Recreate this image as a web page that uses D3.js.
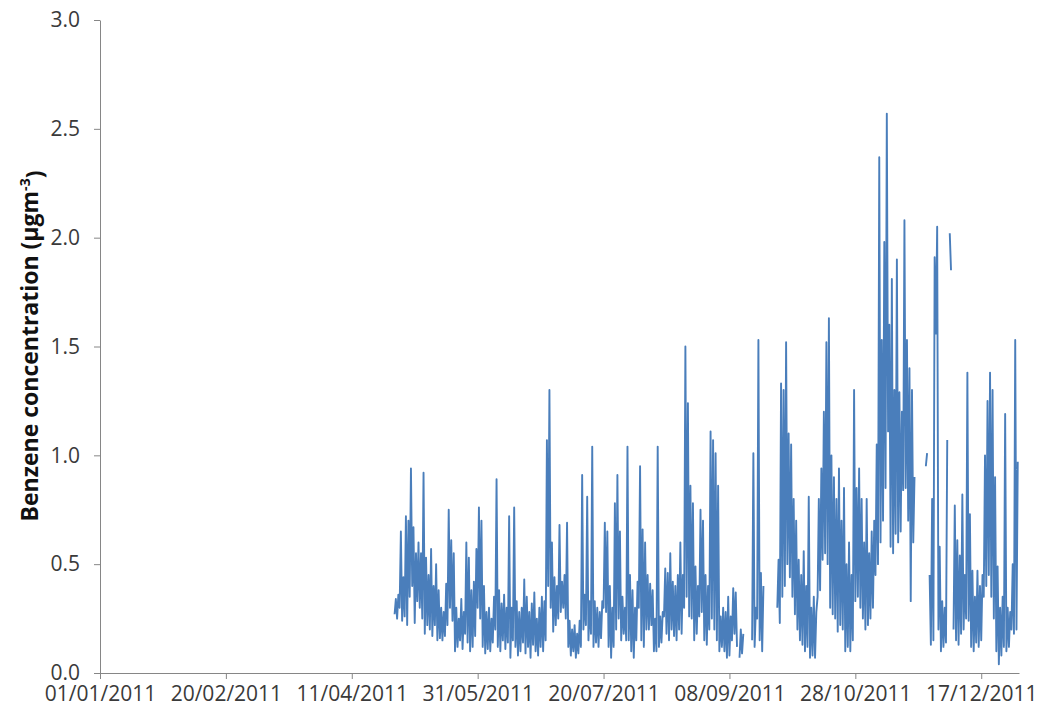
<!DOCTYPE html>
<html>
<head>
<meta charset="utf-8">
<script src="https://cdn.jsdelivr.net/npm/d3@7"></script>
<style>
  body { margin: 0; background: #ffffff; }
  svg text { font-family: "Open Sans", "DejaVu Sans", sans-serif; }
</style>
</head>
<body>
<svg id="chart" width="1045" height="718"></svg>
<script>
// Benzene readings, 12-hourly (00:00 and 12:00), grouped by month; null = no reading
const benzeneApr = [0.27,0.34, 0.25,0.36, 0.30,0.65];
const benzeneMay = [
  0.24,0.44, 0.26,0.72, 0.22,0.70, 0.35,0.94, 0.40,0.67, 0.23,0.55, 0.33,0.60, 0.30,0.55,
  0.25,0.92, 0.18,0.53, 0.22,0.45, 0.20,0.57, 0.17,0.40, 0.22,0.50, 0.15,0.38, 0.16,0.30,
  0.15,0.28, 0.17,0.41, 0.22,0.75, 0.30,0.61, 0.24,0.55, 0.10,0.30, 0.12,0.25, 0.15,0.34,
  0.11,0.28, 0.18,0.60, 0.14,0.53, 0.10,0.38, 0.12,0.42, 0.17,0.57, 0.30,0.76
];
const benzeneJun = [
  0.25,0.70, 0.12,0.40, 0.09,0.28, 0.11,0.30, 0.10,0.25, 0.14,0.35, 0.20,0.89, 0.12,0.38,
  0.10,0.32, 0.15,0.36, 0.11,0.30, 0.14,0.72, 0.07,0.30, 0.15,0.76, 0.12,0.33, 0.08,0.28,
  0.10,0.30, 0.14,0.43, 0.09,0.35, 0.12,0.28, 0.07,0.32, 0.13,0.37, 0.10,0.25, 0.08,0.30,
  0.12,0.35, 0.10,0.33, 0.15,1.07, 0.40,1.30, 0.30,0.60, 0.19,0.44
];
const benzeneJul = [
  0.22,0.40, 0.25,0.68, 0.28,0.42, 0.30,0.45, 0.25,0.69, 0.12,0.24, 0.08,0.20, 0.10,0.22,
  0.07,0.18, 0.09,0.24, 0.12,0.91, 0.20,0.36, 0.22,0.81, 0.15,0.33, 0.18,1.04, 0.12,0.33,
  0.14,0.30, 0.12,0.28, 0.16,0.33, 0.30,0.69, 0.28,0.65, 0.12,0.40, 0.07,0.30, 0.12,0.78,
  0.20,0.91, 0.25,0.65, 0.15,0.35, 0.18,0.30, 0.15,1.04, 0.15,0.45, 0.10,0.38
];
const benzeneAug = [
  0.07,0.30, 0.15,0.42, 0.30,0.95, 0.15,0.66, 0.12,0.60, 0.20,0.45, 0.20,0.41, 0.22,0.38,
  0.10,0.25, 0.10,1.04, 0.12,0.26, 0.14,0.28, 0.26,0.48, 0.18,0.46, 0.15,0.55, 0.20,0.42,
  0.17,0.40, 0.15,0.45, 0.20,0.60, 0.18,0.45, 0.30,1.50, 0.35,1.24, 0.26,0.86, 0.25,0.78,
  0.15,0.49, 0.18,0.40, 0.26,0.75, 0.28,0.70, 0.15,0.45, 0.13,0.40, 0.20,1.11
];
const benzeneSep = [
  0.25,1.07, 0.20,1.01, 0.15,0.86, 0.10,0.26, 0.12,0.30, 0.10,0.28, 0.07,0.35, 0.08,0.26,
  0.15,0.39, 0.18,0.37, 0.12,null, 0.07,0.20, 0.09,0.18, null,null, null,null, null,null,
  0.15,1.01, 0.12,0.30, 0.25,1.53, 0.15,0.46, 0.10,0.40, null,null, null,null, null,null,
  null,null, null,null, 0.30,0.52, 0.23,1.33, 0.35,1.30, 0.40,1.52
];
const benzeneOct = [
  0.50,1.10, 0.44,1.05, 0.35,0.80, 0.27,0.70, 0.20,0.52, 0.15,0.45, 0.13,0.56, 0.10,0.40,
  0.12,0.81, 0.07,0.30, 0.08,0.35, 0.07,0.28, 0.35,0.80, 0.38,0.94, 0.52,1.20, 0.55,1.52,
  0.50,1.63, 0.30,1.00, 0.27,0.90, 0.25,0.80, 0.19,0.94, 0.22,0.70, 0.20,0.85, 0.10,0.50,
  0.12,0.60, 0.10,0.45, 0.15,1.30, 0.33,0.85, 0.35,0.94, 0.30,0.80, 0.25,0.60
];
const benzeneNov = [
  0.20,0.80, 0.22,0.55, 0.25,0.65, 0.30,0.70, 0.45,1.05, 0.50,2.37, 0.60,1.53, 0.70,1.98,
  0.85,2.57, 1.11,1.60, 0.58,1.81, 0.55,1.30, 0.64,1.90, 0.60,1.29, 0.65,1.20, 0.84,2.08,
  0.85,1.53, 0.70,1.40, 0.33,1.30, 0.60,0.90, null,null, null,null, null,null, null,null,
  0.95,1.01, null,0.45, 0.13,0.80, 0.15,1.91, 1.56,2.05, 0.20,0.58
];
const benzeneDec = [
  0.10,0.33, 0.12,0.30, 0.14,1.07, null,2.02, 1.85,null, 0.20,0.77, 0.15,0.61, 0.13,0.54,
  0.18,0.82, 0.20,0.45, 0.25,1.38, 0.24,0.73, 0.12,0.47, 0.10,0.35, 0.14,0.47, 0.12,0.40,
  0.15,0.45, 0.35,1.00, 0.40,1.25, 0.45,1.38, 0.35,1.30, 0.25,0.90, 0.10,0.49, 0.04,0.30,
  0.08,0.35, 0.12,1.19, 0.10,0.30, 0.12,0.28, 0.20,0.50, 0.18,1.53, 0.20,0.97
];

const monthlyRuns = [
  ["2011-04-28", benzeneApr], ["2011-05-01", benzeneMay], ["2011-06-01", benzeneJun],
  ["2011-07-01", benzeneJul], ["2011-08-01", benzeneAug], ["2011-09-01", benzeneSep],
  ["2011-10-01", benzeneOct], ["2011-11-01", benzeneNov], ["2011-12-01", benzeneDec]
];

const yTickValues = [0, 0.5, 1.0, 1.5, 2.0, 2.5, 3.0];
const xTickLabels = ["01/01/2011", "20/02/2011", "11/04/2011", "31/05/2011",
                     "20/07/2011", "08/09/2011", "28/10/2011", "17/12/2011"];

const HALF_DAY = 12 * 3600 * 1000;
const parseDay = d3.utcParse("%Y-%m-%d");
const parseLabel = d3.utcParse("%d/%m/%Y");
const formatLabel = d3.utcFormat("%d/%m/%Y");

const readings = monthlyRuns.flatMap(([start, values]) => {
  const t0 = parseDay(start).getTime();
  return values.map((v, i) => ({ date: new Date(t0 + i * HALF_DAY), value: v }));
});

const svg = d3.select("#chart");
const plot = { left: 100, right: 1019, top: 20, bottom: 673 };

const x = d3.scaleUtc()
  .domain([Date.UTC(2011, 0, 1), Date.UTC(2012, 0, 1)])
  .range([plot.left, plot.right]);
const y = d3.scaleLinear().domain([0, 3]).range([plot.bottom, plot.top]);

const axisColor = "#868686";
const labelColor = "#3a3a3a";

// Y axis
const yAxis = svg.append("g")
  .attr("transform", `translate(${plot.left},0)`)
  .call(d3.axisLeft(y).tickValues(yTickValues).tickFormat(d3.format(".1f"))
    .tickSize(6).tickSizeOuter(0).tickPadding(14));
// X axis
const xAxis = svg.append("g")
  .attr("transform", `translate(0,${plot.bottom})`)
  .call(d3.axisBottom(x).tickValues(xTickLabels.map(parseLabel)).tickFormat(formatLabel)
    .tickSize(6).tickSizeOuter(0).tickPadding(7));

[yAxis, xAxis].forEach(g => {
  g.select(".domain").attr("stroke", axisColor).attr("stroke-width", 1);
  g.selectAll(".tick line").attr("stroke", axisColor);
  g.selectAll(".tick text").attr("fill", labelColor);
});
yAxis.selectAll(".tick text").style("font-size", "21px");
xAxis.selectAll(".tick text").style("font-size", "21px");

// Benzene series
const line = d3.line()
  .defined(d => d.value != null)
  .x(d => x(d.date))
  .y(d => y(d.value));

svg.append("path")
  .datum(readings)
  .attr("fill", "none")
  .attr("stroke", "#4a7ebb")
  .attr("stroke-width", 1.9)
  .attr("stroke-linejoin", "round")
  .attr("d", line);

// Y axis title
const title = svg.append("text")
  .attr("transform", `translate(38,346) rotate(-90)`)
  .attr("text-anchor", "middle")
  .attr("fill", "#111")
  .style("font-size", "23px")
  .style("font-weight", "bold");
title.append("tspan").text("Benzene concentration (µgm");
title.append("tspan").attr("dy", "-0.55em").style("font-size", "14px").text("-3");
title.append("tspan").attr("dy", "0.55em").text(")");
</script>
</body>
</html>
